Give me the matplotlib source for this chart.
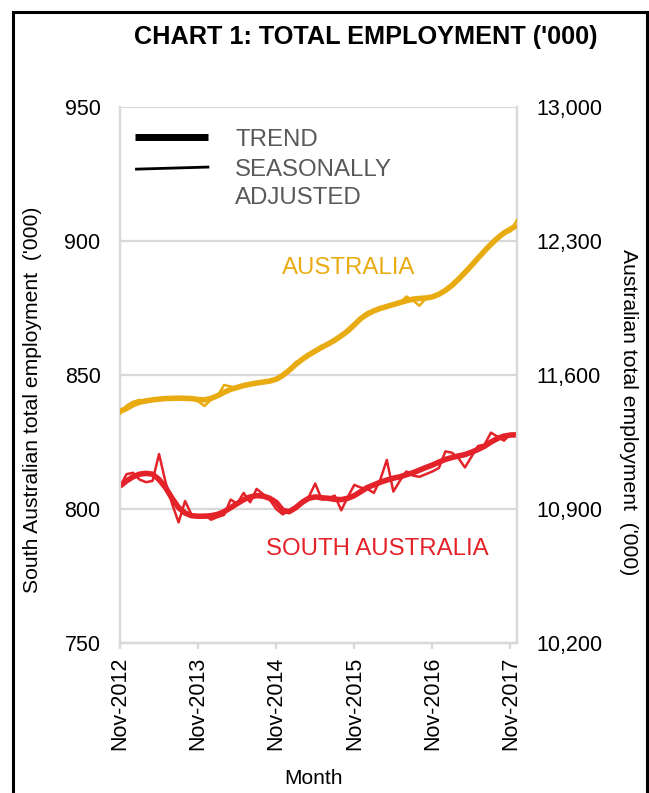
import numpy as np
import pandas as pd
import matplotlib
matplotlib.use("Agg")
import matplotlib.pyplot as plt
from matplotlib.lines import Line2D
from matplotlib.patches import Rectangle

plt.rcParams["font.family"] = ["Liberation Sans", "DejaVu Sans"]

# monthly data, Nov-2012 .. Dec-2017
months = pd.date_range("2012-11-01", periods=62, freq="MS")

sa_trend = [808.5, 810.5, 812.0, 813.0, 813.3, 813.0, 811.0, 808.0, 804.0, 800.5,
            798.5, 797.5, 797.3, 797.3, 797.5, 798.0, 799.0, 800.5, 802.0, 803.5,
            804.5, 805.0, 804.8, 804.0, 802.5, 799.5, 799.0, 800.5, 802.5, 804.0,
            804.5, 804.2, 804.0, 803.6, 803.5, 804.0, 805.0, 806.5, 808.0, 809.0,
            810.0, 810.8, 811.5, 812.0, 812.8, 813.5, 814.5, 815.5, 816.4, 817.5,
            818.5, 819.2, 819.8, 820.3, 821.2, 822.2, 823.4, 825.0, 826.3, 827.2,
            827.6, 827.7]
sa_seas = [808.3, 813.0, 813.5, 811.0, 810.0, 810.5, 820.5, 810.0, 802.0, 795.0,
           803.0, 797.8, 797.5, 797.8, 796.0, 797.0, 797.8, 803.5, 802.0, 806.0,
           802.5, 807.5, 805.5, 803.5, 800.0, 798.0, 799.5, 800.0, 802.0, 804.5,
           809.5, 803.5, 804.0, 805.0, 799.5, 804.5, 809.0, 808.0, 807.5, 806.0,
           811.0, 818.3, 806.5, 810.5, 814.0, 812.5, 812.0, 813.0, 814.0, 815.3,
           821.5, 821.0, 819.0, 815.5, 819.5, 823.5, 824.0, 828.5, 827.0, 825.5,
           828.0, 827.5]
au_trend = [11410, 11425, 11445, 11458, 11465, 11470, 11474, 11477, 11478, 11479,
            11478, 11477, 11472, 11470, 11478, 11492, 11510, 11525, 11535, 11545,
            11552, 11558, 11563, 11568, 11578, 11598, 11625, 11655, 11682, 11705,
            11725, 11745, 11762, 11782, 11805, 11830, 11862, 11895, 11918, 11935,
            11948, 11958, 11968, 11978, 11988, 11996, 12000, 12002, 12008, 12022,
            12042, 12068, 12100, 12135, 12172, 12210, 12248, 12283, 12315, 12342,
            12362, 12382]
au_seas = [11398, 11440, 11460, 11470, 11458, 11470, 11478, 11474, 11480, 11478,
           11474, 11476, 11462, 11438, 11472, 11492, 11548, 11540, 11530, 11545,
           11558, 11556, 11562, 11574, 11572, 11590, 11625, 11668, 11680, 11712,
           11722, 11748, 11770, 11780, 11800, 11840, 11870, 11900, 11928, 11935,
           11945, 11955, 11972, 11975, 12010, 11990, 11962, 12000, 12005, 12020,
           12040, 12075, 12095, 12140, 12168, 12215, 12240, 12290, 12320, 12338,
           12350, 12410]

RED = "#E42229"
GOLD = "#E9AB12"
GRID = "#D9D9D9"
GREY_TXT = "#595959"

x = np.arange(len(months))
tick_pos = x[::12]
tick_lab = [m.strftime("%b-%Y") for m in months[::12]]

fig = plt.figure(figsize=(6.49, 7.93), dpi=100)
ax = fig.add_axes([120 / 649, 1 - 643 / 793, 397 / 649, 536 / 793])
ax2 = ax.twinx()

ax.plot(x, sa_trend, color=RED, lw=4, solid_capstyle="butt", zorder=3)
ax.plot(x, sa_seas, color=RED, lw=1.8, zorder=3)
ax2.plot(x, au_trend, color=GOLD, lw=4, solid_capstyle="butt", zorder=3)
ax2.plot(x, au_seas, color=GOLD, lw=1.8, zorder=3)

ax.set_xlim(0, 61)
ax.set_ylim(750, 950)
ax2.set_ylim(10200, 13000)
ax.set_yticks([750, 800, 850, 900, 950])
ax2.set_yticks([10200, 10900, 11600, 12300, 13000])
ax2.set_yticklabels([f"{v:,}" for v in [10200, 10900, 11600, 12300, 13000]])
ax.yaxis.grid(True, color=GRID, lw=1.6)
ax.set_axisbelow(True)

ax.set_xticks(tick_pos)
ax.set_xticklabels(tick_lab, rotation=90)

for a in (ax, ax2):
    for s in a.spines.values():
        s.set_color(GRID)
        s.set_linewidth(1.6)
    a.spines["top"].set_visible(False)
    a.tick_params(axis="y", length=0, labelsize=15.5, pad=14)
ax.tick_params(axis="x", length=4, color=GRID, width=1.6, labelsize=15.5, pad=6)

ax.set_ylabel("South Australian total employment  ('000)", fontsize=15.2, va="center")
ax.yaxis.set_label_coords(-(120 - 33) / 397, 0.453)
ax2.set_ylabel("Australian total employment  ('000)", fontsize=15.2, rotation=270, va="center")
ax2.yaxis.set_label_coords(1.28, 0.43)
ax.set_xlabel("Month", fontsize=15, va="center")
ax.xaxis.set_label_coords(0.487, -(778 - 643) / 536)

fig.text(366 / 649, 1 - 37 / 793, "CHART 1: TOTAL EMPLOYMENT ('000)", ha="center", va="center",
         fontsize=18.2, fontweight="bold")

# series labels
ax.text(35.1, 890, "AUSTRALIA", color=GOLD, fontsize=17.3, ha="center", va="center")
ax.text(39.5, 785, "SOUTH AUSTRALIA", color=RED, fontsize=17.3, ha="center", va="center")

# legend
ax.add_line(Line2D([0.038, 0.222], [0.944, 0.944], color="black", lw=5, transform=ax.transAxes,
                   solid_capstyle="butt"))
ax.add_line(Line2D([0.038, 0.225], [0.884, 0.888], color="black", lw=2, transform=ax.transAxes,
                   solid_capstyle="butt"))
ax.text(0.29, 0.938, "TREND", transform=ax.transAxes, color=GREY_TXT, fontsize=17.3, va="center")
ax.text(0.29, 0.882, "SEASONALLY", transform=ax.transAxes, color=GREY_TXT, fontsize=17.3, va="center")
ax.text(0.29, 0.830, "ADJUSTED", transform=ax.transAxes, color=GREY_TXT, fontsize=17.3, va="center")

# outer frame, open at the bottom of the image
fig.patches.append(Rectangle((13 / 649, -0.05), 634 / 649, 1.05 - 11.5 / 793, transform=fig.transFigure,
                             fill=False, edgecolor="black", lw=2.2, clip_on=False))

fig.savefig("out.png", dpi=100)
